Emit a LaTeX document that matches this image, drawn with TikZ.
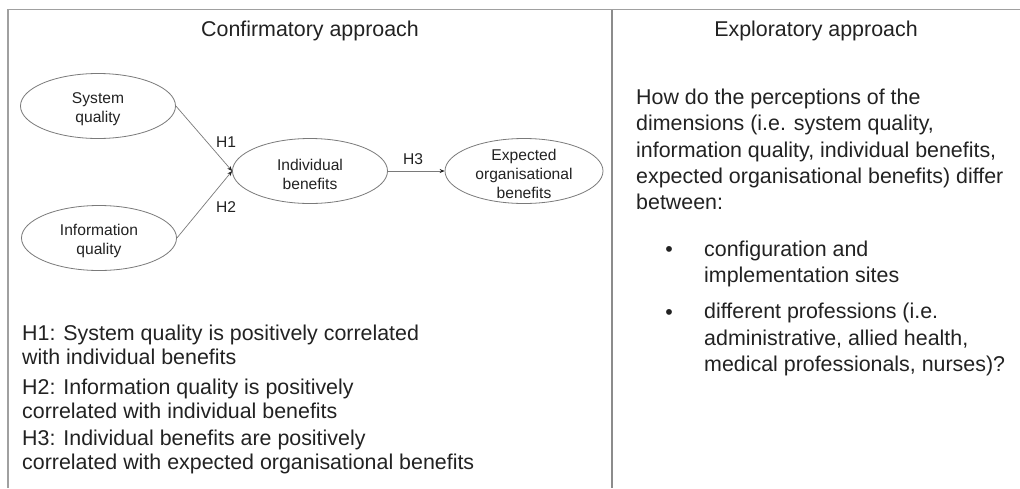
\documentclass[tikz,border=0pt]{standalone}
\usepackage{fontspec}
\setmainfont{Liberation Sans}
\usetikzlibrary{arrows.meta,shapes.geometric}
\definecolor{ink}{HTML}{222222}
\definecolor{rulec}{HTML}{A0A0A0}
\definecolor{divc}{HTML}{8C8C8C}
\definecolor{edgec}{HTML}{7A7A7A}
\begin{document}
\begin{tikzpicture}[x=1pt,y=-1pt,
  bigtext/.style={text=ink,inner sep=0pt,font=\fontsize{21.4}{26.4}\selectfont},
  smalltext/.style={text=ink,inner sep=0pt,align=center,font=\fontsize{15.6}{19}\selectfont},
  construct/.style={ellipse,draw=edgec,line width=0.8pt,minimum width=155pt,
    minimum height=65pt,inner sep=0pt},
  path/.style={draw=edgec,line width=0.7pt,
    -{Stealth[length=5pt,width=4pt,color=ink]}},
  block/.style={bigtext,align=left,anchor=north west},
  hyp/.style={block,font=\fontsize{21.4}{24}\selectfont}]
\useasboundingbox (0,0) rectangle (1020,488);
\fill[white] (0,0) rectangle (1020,488);

% frame and divider
\draw[rulec,line width=1.2pt] (8,488) -- (8,9.5) -- (1020,9.5);
\draw[divc,line width=2.2pt] (612,9.5) -- (612,488);

% headings
\node[bigtext] (hconf) at (310,31) {Confirmatory approach};
\node[bigtext] (hexpl) at (816,31) {Exploratory approach};

% research model
\node[construct] (sq) at (98,106) {};
\node[construct] (iq) at (99,238) {};
\node[construct] (ib) at (310,171) {};
\node[construct,minimum width=158pt] (eob) at (524,171) {};
\node[smalltext] (sqt) at (98,109) {System\\quality};
\node[smalltext] (iqt) at (99,241) {Information\\quality};
\node[smalltext] (ibt) at (310,174) {Individual\\benefits};
\node[smalltext] (eobt) at (524,173.5) {Expected\\organisational\\benefits};

\draw[path] (sq.east) -- (ib.west);
\draw[path] (iq.east) -- (ib.west);
\draw[path] (ib.east) -- (eob.west);

\node[smalltext] (l1) at (226,142) {H1};
\node[smalltext] (l2) at (226,207) {H2};
\node[smalltext] (l3) at (413,159) {H3};

% hypotheses
\node[hyp] (t1) at (22,325) {H1: System quality is positively correlated\\with individual benefits};
\node[hyp] (t2) at (22,379) {H2: Information quality is positively\\correlated with individual benefits};
\node[hyp] (t3) at (22,430) {H3: Individual benefits are positively\\correlated with expected organisational benefits};

% research question
\node[block] (q) at (636,88.5) {How do the perceptions of the\\dimensions (i.e. system quality,\\information quality, individual benefits,\\expected organisational benefits) differ\\between:};
\node[bigtext,anchor=base] (b1) at (669,256) {\textbullet};
\node[block] (q1) at (704,240.5) {configuration and\\implementation sites};
\node[bigtext,anchor=base] (b2) at (669,319) {\textbullet};
\node[block] (q2) at (704,303) {different professions (i.e.\\administrative, allied health,\\medical professionals, nurses)?};
\end{tikzpicture}
\end{document}
